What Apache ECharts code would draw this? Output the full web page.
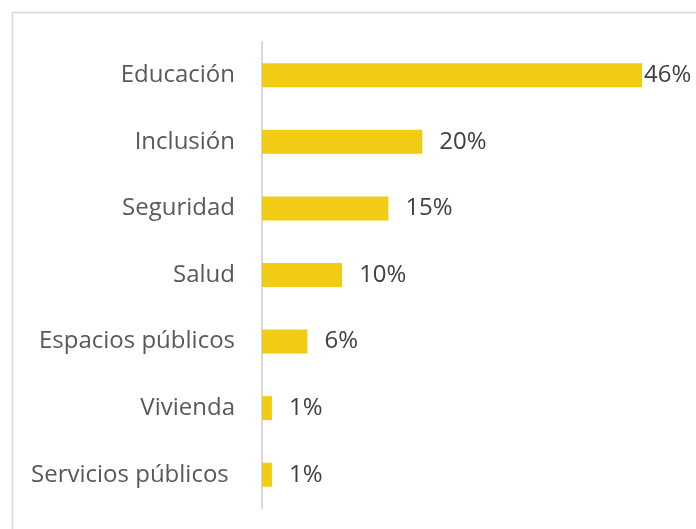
<!DOCTYPE html>
<html lang="es">
<head>
    <meta charset="UTF-8">
    <title>Áreas</title>
    <script type="text/javascript" src="https://cdn.jsdelivr.net/npm/echarts@6/dist/echarts.min.js"></script>
    <style>
        html, body { margin: 0; padding: 0; background: #fff; }
    </style>
</head>
<body>
<div id="bar" style="width: 696px;height:529px;"></div>
<script>
    // categorias de arriba hacia abajo
    var categorias = ['Educación', 'Inclusión', 'Seguridad', 'Salud', 'Espacios públicos', 'Vivienda', 'Servicios públicos '];
    // largo de barra (%)
    var valores = [46, 19.4, 15.3, 9.7, 5.5, 1.2, 1.2];
    // etiquetas tal como aparecen
    var etiquetas = ['46%', '20%', '15%', '10%', '6%', '1%', '1%'];

    var datos = valores.map(function (v, i) {
        var d = {value: v};
        if (i === 0) d.label = {distance: 2};
        return d;
    });

    var option = {
        animation: false,
        textStyle: {fontFamily: 'Open Sans'},
        grid: {left: 262, right: 54, top: 42, bottom: 21},
        graphic: [{
            type: 'rect',
            shape: {x: 12.5, y: 12.5, width: 800, height: 800},
            style: {fill: 'none', stroke: '#d9d9d9', lineWidth: 1.5},
            silent: true
        }],
        xAxis: {
            type: 'value',
            min: 0,
            max: 46,
            show: false
        },
        yAxis: {
            type: 'category',
            data: categorias,
            inverse: true,
            axisTick: {show: false},
            axisLine: {lineStyle: {color: '#d9d9d9', width: 2}},
            axisLabel: {
                color: '#595959',
                fontSize: 24,
                margin: 27,
                fontFamily: 'Open Sans'
            }
        },
        series: [{
            type: 'bar',
            data: datos,
            barWidth: 24,
            itemStyle: {color: '#F2CB15'},
            label: {
                show: true,
                position: 'right',
                distance: 17,
                color: '#404040',
                fontSize: 24,
                fontFamily: 'Open Sans',
                formatter: function (p) {
                    return etiquetas[p.dataIndex];
                }
            }
        }]
    };

    var myChart = echarts.init(document.getElementById('bar'));
    myChart.setOption(option);
</script>
</body>
</html>
